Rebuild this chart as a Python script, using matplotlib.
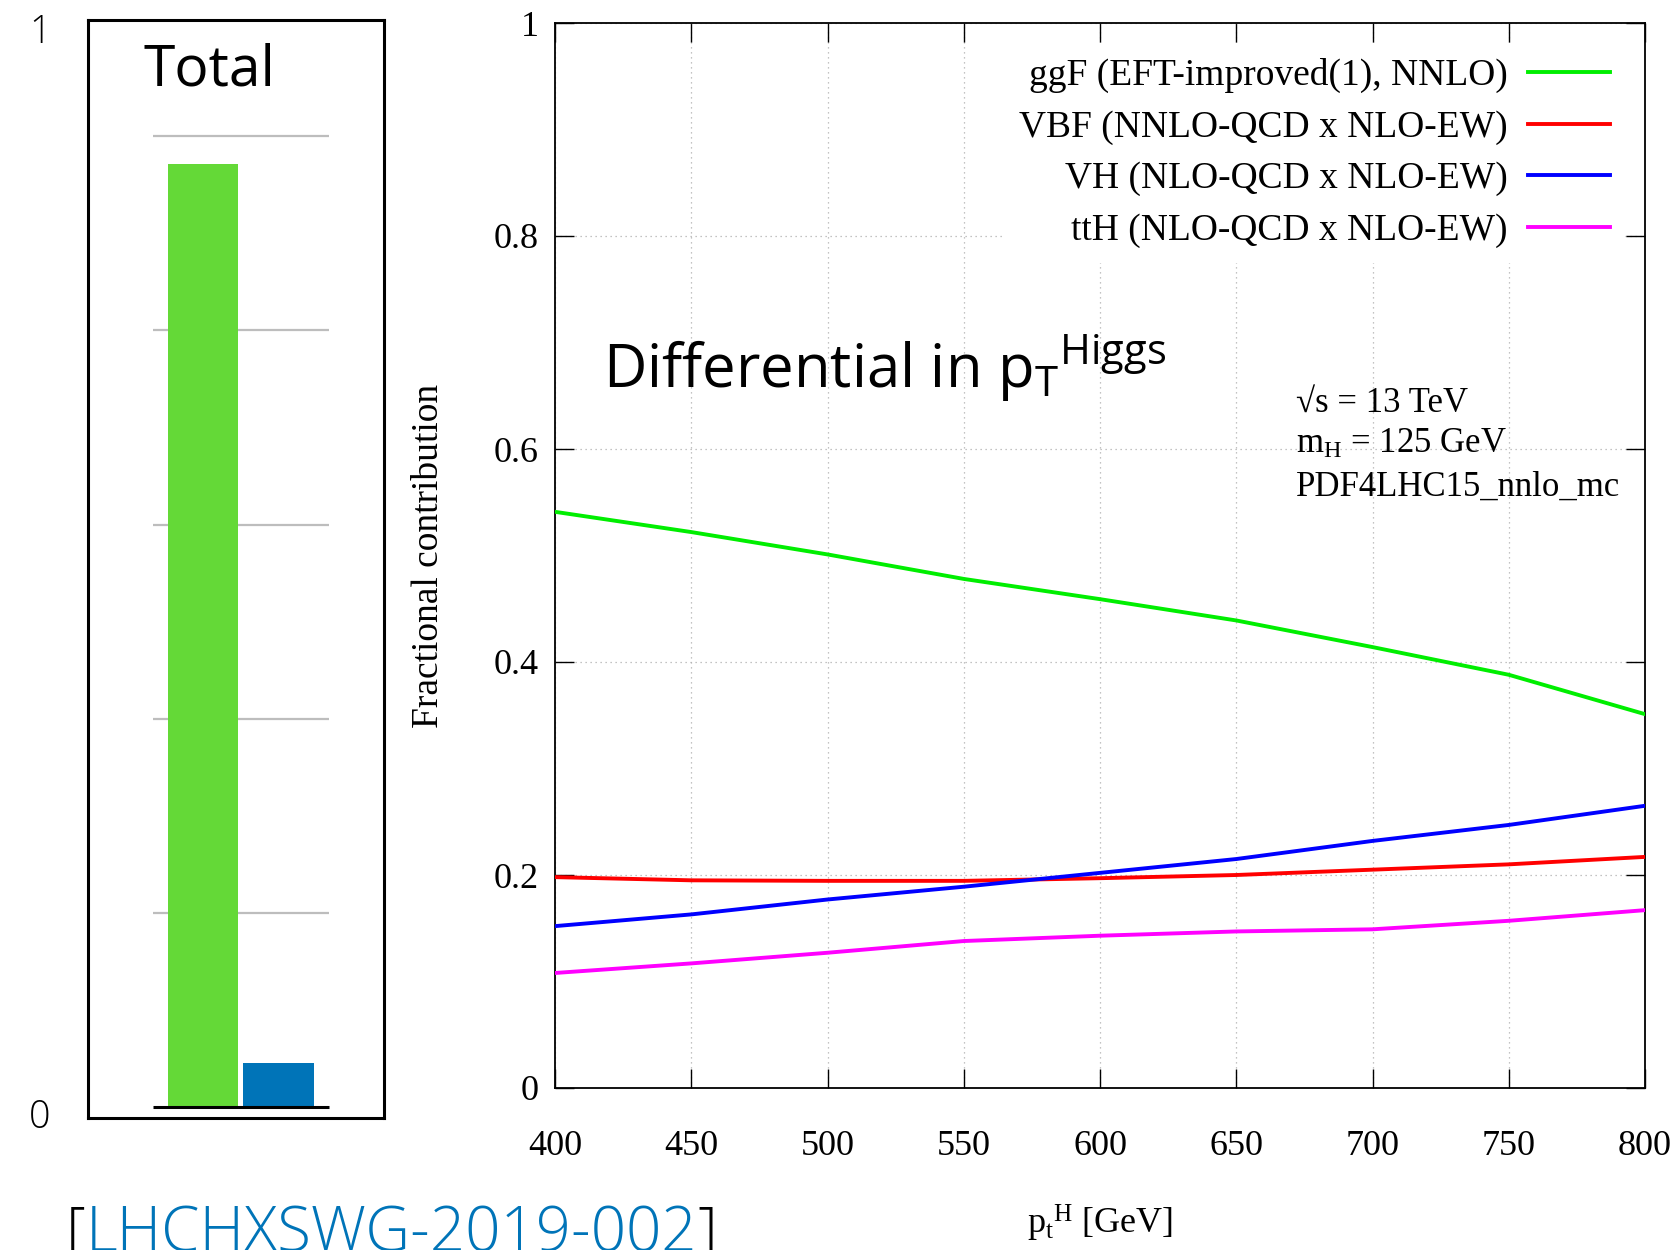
import matplotlib
matplotlib.use("Agg")
import matplotlib.pyplot as plt

# --- data ---------------------------------------------------------------
pt = [400, 450, 500, 550, 600, 650, 700, 750, 800]
ggF = [0.541, 0.522, 0.501, 0.478, 0.459, 0.439, 0.414, 0.388, 0.351]
VBF = [0.198, 0.195, 0.1945, 0.1945, 0.197, 0.200, 0.205, 0.210, 0.217]
VH = [0.152, 0.163, 0.177, 0.189, 0.202, 0.215, 0.232, 0.247, 0.265]
ttH = [0.108, 0.117, 0.127, 0.138, 0.143, 0.147, 0.149, 0.157, 0.167]

series_labels = ["ggF (EFT-improved(1), NNLO)",
                 "VBF (NNLO-QCD x NLO-EW)",
                 "VH (NLO-QCD x NLO-EW)",
                 "ttH (NLO-QCD x NLO-EW)"]
series_colors = ["#00ee00", "#ff0000", "#0000ff", "#ff00ff"]

yticks = [0, 0.2, 0.4, 0.6, 0.8, 1.0]
ytick_labels = ["0", "0.2", "0.4", "0.6", "0.8", "1"]

# total panel (left), arbitrary 0-50 scale
total_bars = [0, 1]
total_vals = [48.6, 2.25]
total_colors = ["#64d937", "#0074b8"]
total_grid = [10, 20, 30, 40, 50]

plt.rcParams['font.family'] = ['Liberation Serif', 'DejaVu Serif']
plt.rcParams['mathtext.fontset'] = 'stix'
sans = ['Open Sans', 'DejaVu Sans']

fig = plt.figure(figsize=(16.8, 12.5), dpi=100)

# --- left "Total" panel ------------------------------------------------
axb = fig.add_axes([0.0524, 0.1056, 0.1762, 0.8784])
axb.hlines(total_grid, -0.66, 1.66, color="#bdbdbd", lw=1.6, zorder=1)
axb.bar(total_bars, total_vals, width=0.93, color=total_colors, zorder=3)
axb.hlines(0, -0.66, 1.66, color="k", lw=2.2, zorder=4)
axb.set_xlim(-1.513, 2.39)
axb.set_ylim(-0.58, 56.0)
axb.set_xticks([])
axb.set_yticks([])
for s in axb.spines.values():
    s.set_linewidth(2.2)
fig.text(143/1680, 1-86/1250, "Total", family=sans, fontsize=41,
         ha="left", va="baseline")
fig.text(40/1680, 1-33/1250, "1", family=sans, fontsize=27, fontweight="light",
         ha="center", va="center")
fig.text(40/1680, 1-1118/1250, "0", family=sans, fontsize=27, fontweight="light",
         ha="center", va="center")

# --- main differential panel -------------------------------------------
ax = fig.add_axes([0.3304, 0.1296, 0.6488, 0.852])
for vals, lab, col in zip([ggF, VBF, VH, ttH], series_labels, series_colors):
    ax.plot(pt, vals, color=col, lw=2.8, label=lab, zorder=3)

ax.set_xlim(400, 800)
ax.set_ylim(0, 1)
ax.set_xticks(pt)
ax.set_yticks(yticks)
ax.set_yticklabels(ytick_labels)
ax.grid(True, ls=(0, (1, 3)), color="#b0b0b0", lw=0.9)
ax.tick_params(direction="in", length=14, width=1.0, top=True, right=True,
               labelsize=26)
ax.tick_params(axis="x", pad=30)
ax.tick_params(axis="y", pad=12)
for s in ax.spines.values():
    s.set_linewidth(1.3)

ax.set_ylabel("Fractional contribution", fontsize=27)
ax.yaxis.set_label_coords(-0.100, 0.5)
ax.set_xlabel(r"p$\mathregular{_t}$$\mathregular{^H}$ [GeV]", fontsize=26)
ax.xaxis.set_label_coords(0.5, -0.108)

leg = ax.legend(loc="upper right", bbox_to_anchor=(0.9817, 0.981),
                borderaxespad=0, markerfirst=False, fontsize=27,
                handlelength=2.2, handletextpad=0.53, labelspacing=0.45,
                frameon=True, fancybox=False, framealpha=1,
                facecolor="white", edgecolor="none")
leg.set_zorder(5)

ax.text(0.680, 0.6347, "\u221as = 13 TeV", transform=ax.transAxes,
        fontsize=25, va="baseline")
ax.text(0.680, 0.5962, r"m$\mathregular{_H}$ = 125 GeV", transform=ax.transAxes,
        fontsize=25, va="baseline")
ax.text(0.680, 0.5559, "PDF4LHC15_nnlo_mc", transform=ax.transAxes,
        fontsize=25, va="baseline")

fig.text(603/1680, 1-388/1250,
         r"Differential in p$\mathregular{_T}$$\mathregular{^{Higgs}}$",
         family=sans, fontsize=43, ha="left", va="baseline")

# --- reference tag -----------------------------------------------------
base_y = 1 - 1251/1250
t1 = fig.text(66/1680, base_y, "[", family=sans, fontsize=44.5,
              fontweight="light", color="k", va="baseline")
t2 = fig.text(0, base_y, "LHCHXSWG-2019-002", family=sans, fontsize=44.5,
              fontweight="light", color="#0074b8", va="baseline")
t3 = fig.text(0, base_y, "]", family=sans, fontsize=44.5, fontweight="light",
              color="k", va="baseline")
fig.canvas.draw()
r = fig.canvas.get_renderer()
x_next = t1.get_window_extent(r).x1 / fig.bbox.width
t2.set_position((x_next, base_y))
fig.canvas.draw()
x_next = t2.get_window_extent(r).x1 / fig.bbox.width
t3.set_position((x_next, base_y))

fig.savefig("out.png", dpi=100)
